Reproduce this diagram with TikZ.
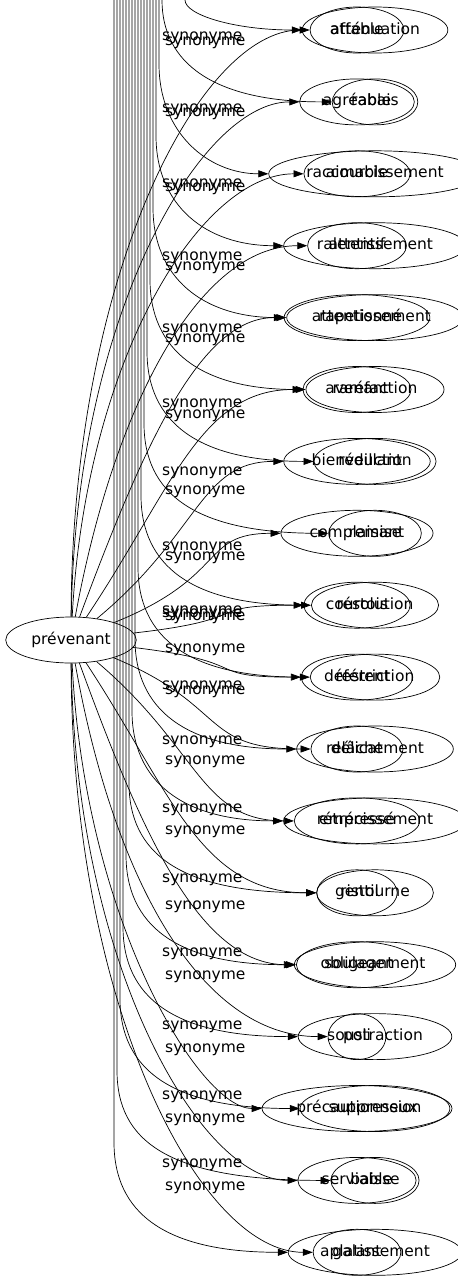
\documentclass[tikz,border=0pt]{standalone}
\usepackage{fontspec}
\setmainfont{DejaVu Sans}
\usetikzlibrary{shapes.geometric,arrows.meta}
\tikzset{
  mot/.style={draw, ellipse, inner xsep=6.5pt, inner ysep=0pt, minimum height=46pt, text height=11.5pt, text depth=3.5pt, line width=0.7pt, font=\fontsize{15.5}{18}\selectfont},
  lien/.style={-{Triangle[length=10pt,width=7pt]}, line width=0.7pt},
  etiq/.style={anchor=west, inner sep=0pt, text height=11.5pt, text depth=3.5pt, font=\fontsize{15.5}{18}\selectfont}
}
\begin{document}
\begin{tikzpicture}[x=1pt,y=-1pt]
   \useasboundingbox (0,0) rectangle (458,1283);
   \begin{scope}
   \clip (0,0) rectangle (458,1283);

   % les mots
   \node[mot] (pv) at (71,640) {prévenant};
   \foreach \a/\b [count=\i from 0] in {affable/atténuation, agréable/rabais, aimable/raccourcissement,
      attentif/ralentissement, attentionné/rapetissement, avenant/raréfaction, bienveillant/réduction,
      complaisant/remise, courtois/résolution, déférent/restriction, délicat/relâchement,
      empressé/rétrécissement, gentil/ristourne, obligeant/soulagement, poli/soustraction,
      précautionneux/suppression, serviable/baisse, galant/aplatissement} {
      \pgfmathsetmacro\yy{30+71.9*\i}
      \node[mot] (a\i) at (357,\yy) {\a};
      \node[mot] (b\i) at (375,\yy) {\b};
   }

   % liens depuis prevenant
   \foreach \i in {0,...,17} {
      \pgfmathsetmacro\yy{30+71.9*\i}
      \pgfmathsetmacro\dy{\yy-640}
      \pgfmathsetmacro\kx{max(3*min(\i,17-\i),200-0.4*abs(\dy))}
      \pgfmathsetmacro\cy{640+0.6*\dy}
      \draw[lien] (pv) .. controls (72+\kx,\cy) and (200,\yy) .. (a\i);
   }

   % liens venant du haut
   \foreach \i in {0,...,17} {
      \pgfmathsetmacro\yy{30+71.9*\i}
      \pgfmathsetmacro\bx{ifthenelse(\i==0,185,165-3*\i)}
      \pgfmathsetmacro\ky{max(0,\yy-110)}
      \pgfmathsetmacro\cy{max(\yy-40,0.5*\yy)}
      \coordinate (h\i) at (\bx,0);
      \draw[lien] (h\i) -- (\bx,\ky) .. controls (\bx,\cy) and (\bx+50,\yy) .. (b\i);
   }

   % etiquettes
   \foreach \la/\lb [count=\i from 0] in {36/41, 108/112, 183/187, 256/266, 328/338, 403/414,
      471/490, 546/556, 610/616, 613/648, 685/690, 740/760, 808/830, 878/905, 952/975,
      1025/1048, 1095/1118, 1163/1186} {
      \node[etiq] (sa\i) at (162,\la) {synonyme};
      \node[etiq] (sb\i) at (165,\lb) {synonyme};
   }
   \end{scope}
\end{tikzpicture}
\end{document}
